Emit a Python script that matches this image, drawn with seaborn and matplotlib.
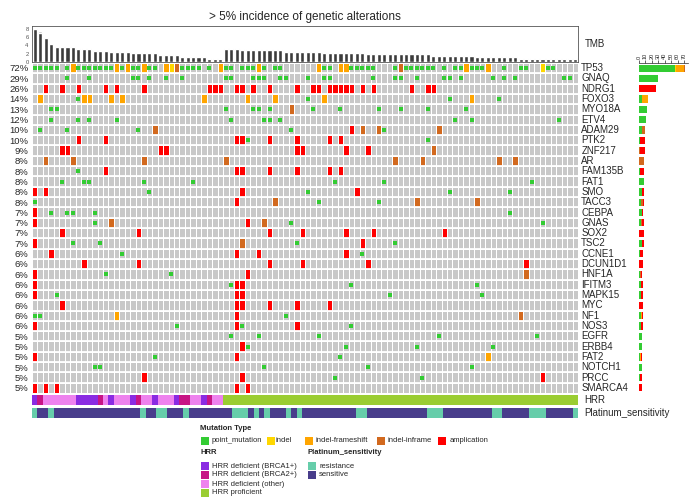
import numpy as np
import seaborn as sns
import matplotlib.pyplot as plt
from matplotlib.colors import ListedColormap
from matplotlib.patches import Rectangle

# ----- data -----
n_samples = 100
genes = ["TP53", "GNAQ", "NDRG1", "FOXO3", "MYO18A", "ETV4", "ADAM29", "PTK2",
         "ZNF217", "AR", "FAM135B", "FAT1", "SMO", "TACC3", "CEBPA", "GNAS",
         "SOX2", "TSC2", "CCNE1", "DCUN1D1", "HNF1A", "IFITM3", "MAPK15", "MYC",
         "NF1", "NOS3", "EGFR", "ERBB4", "FAT2", "NOTCH1", "PRCC", "SMARCA4"]
pct_labels = ["72%", "29%", "26%", "14%", "13%", "12%", "10%", "10%", "9%", "8%",
              "8%", "8%", "8%", "8%", "7%", "7%", "7%", "7%", "6%", "6%", "6%",
              "6%", "6%", "6%", "6%", "6%", "5%", "5%", "5%", "5%", "5%", "5%"]

# sample columns carrying each alteration type, per gene
point_mutation = {
    "TP53": [0, 1, 2, 3, 4, 6, 8, 9, 10, 11, 12, 13, 14, 16, 18, 19, 21, 22, 27, 28,
             29, 30, 32, 35, 36, 38, 39, 40, 42, 44, 45, 53, 54, 58, 59, 60, 61, 62,
             66, 68, 69, 70, 71, 72, 73, 75, 77, 78, 80, 81, 82, 86, 89, 90, 94, 95],
    "GNAQ": [6, 10, 18, 19, 21, 24, 27, 35, 36, 40, 41, 42, 45, 46, 50, 53, 54, 62,
             66, 67, 70, 75, 76, 78, 84, 86, 88, 97, 98],
    "FOXO3": [8, 50, 76, 85],
    "MYO18A": [3, 4, 35, 40, 41, 43, 51, 56, 63, 67, 72, 79],
    "ETV4": [3, 8, 10, 15, 36, 42, 43, 45, 77, 80, 96],
    "ADAM29": [1, 6, 19, 47, 64],
    "PTK2": [39, 72],
    "FAM135B": [8],
    "FAT1": [5, 9, 10, 20, 29, 55, 64, 91],
    "SMO": [21, 50, 76, 87],
    "TACC3": [0, 52, 63],
    "CEBPA": [3, 6, 7, 11, 87],
    "GNAS": [11, 47, 93],
    "TSC2": [7, 12, 48, 66],
    "CCNE1": [16, 60],
    "HNF1A": [13, 25],
    "IFITM3": [36, 58, 81],
    "MAPK15": [4, 65, 82],
    "NF1": [0, 1, 46],
    "NOS3": [26, 38, 58],
    "EGFR": [36, 41, 52, 74, 92],
    "ERBB4": [39, 57, 70, 84],
    "FAT2": [22, 56],
    "NOTCH1": [11, 12, 42, 61, 80],
    "PRCC": [55, 71],
}
indel = {
    "TP53": [25, 93],
}
indel_frameshift = {
    "TP53": [7, 15, 17, 20, 24, 34, 41, 52, 56, 57, 79, 83],
    "FOXO3": [1, 9, 10, 14, 16, 31, 39, 44, 53, 80],
    "NF1": [15],
    "FAT2": [83],
}
indel_inframe = {
    "TP53": [26, 67],
    "MYO18A": [47],
    "ADAM29": [22, 60, 63, 74],
    "ZNF217": [73],
    "AR": [2, 7, 20, 35, 66, 71, 85, 88],
    "TACC3": [44, 70, 81],
    "GNAS": [14, 42],
    "TSC2": [38],
    "HNF1A": [90],
    "NF1": [89],
}
amplification = {
    "NDRG1": [2, 5, 8, 13, 15, 20, 32, 33, 34, 37, 38, 40, 43, 48, 51, 52, 54, 55,
              56, 57, 58, 60, 62, 69, 72, 73],
    "ADAM29": [58],
    "PTK2": [8, 13, 37, 38, 43, 48, 54, 56],
    "ZNF217": [5, 6, 23, 24, 48, 49, 57, 61],
    "FAM135B": [13, 37, 38, 43, 48, 54, 56],
    "SMO": [0, 2, 38, 59],
    "TACC3": [37],
    "CEBPA": [0],
    "GNAS": [0, 39],
    "SOX2": [5, 19, 43, 49, 57, 62, 75],
    "TSC2": [0, 60],
    "CCNE1": [3, 37, 41, 57],
    "DCUN1D1": [9, 19, 43, 49, 61, 90],
    "HNF1A": [0, 39],
    "IFITM3": [0, 37, 38],
    "MAPK15": [0, 37, 38],
    "MYC": [5, 37, 38, 43, 48, 54],
    "NF1": [37],
    "NOS3": [0, 37, 48],
    "ERBB4": [38],
    "FAT2": [0, 37],
    "PRCC": [20, 38, 93],
    "SMARCA4": [0, 2, 4, 37, 39],
}

# TMB per sample (dark: non-synonymous, light: synonymous part on top)
tmb_main = [7.9, 7.0, 5.7, 4.2, 3.6, 3.6, 3.6, 3.6, 3.0, 3.0, 3.0, 2.7, 2.7, 2.7,
            2.4, 2.4, 2.4, 2.4, 2.1, 2.1, 2.1, 2.1, 2.1, 1.6, 1.6, 1.6, 1.6, 1.1,
            1.1, 1.1, 1.1, 1.1, 0.8, 0.8, 0.8,
            3.1, 3.1, 3.1, 2.8, 2.8, 2.8, 2.8, 2.8, 2.8, 2.8, 2.8, 2.5, 2.5, 2.5,
            2.5, 2.5, 2.5, 2.5, 2.2, 2.2, 2.2, 2.2, 2.2, 2.2, 2.2, 2.2, 1.8, 1.8,
            1.8, 1.8, 1.8, 1.8, 1.8, 1.8, 1.8, 1.8, 1.8, 1.8, 1.4, 1.4, 1.4, 1.4,
            1.4, 1.4, 1.4, 1.4, 1.2, 1.2, 1.2, 1.2, 1.2, 1.2, 1.2, 1.2, 0.8, 0.8,
            0.8, 0.8, 0.8, 0.8, 0.8, 0.8, 0.8, 0.8, 0.8]
tmb_syn = [0.3, 0.4, 0.3, 0.2, 0.3, 0.3, 0.3, 0.3, 0.3, 0.3, 0.3, 0.2, 0.2, 0.2,
           0.2, 0.2, 0.2, 0.2, 0.2, 0.2, 0.2, 0.2, 0.2, 0.2, 0.2, 0.2, 0.2, 0.2,
           0.2, 0.2, 0.2, 0.2, 0.1, 0.1, 0.1,
           0.3, 0.3, 0.3, 0.2, 0.2, 0.2, 0.2, 0.2, 0.2, 0.2, 0.2, 0.2, 0.2, 0.2,
           0.2, 0.2, 0.2, 0.2, 0.2, 0.2, 0.2, 0.2, 0.2, 0.2, 0.2, 0.2, 0.2, 0.2,
           0.2, 0.2, 0.2, 0.2, 0.2, 0.2, 0.2, 0.2, 0.2, 0.2, 0.2, 0.2, 0.2, 0.2,
           0.2, 0.2, 0.2, 0.2, 0.2, 0.2, 0.2, 0.2, 0.2, 0.2, 0.2, 0.2, 0.2, 0.2,
           0.2, 0.2, 0.2, 0.2, 0.2, 0.2, 0.2, 0.2, 0.2]

# annotation tracks as (category, run length) from left to right
hrr_runs = [("BRCA1", 1), ("BRCA2", 1), ("other", 6), ("BRCA1", 4), ("BRCA2", 1),
            ("other", 1), ("BRCA1", 1), ("other", 3), ("BRCA1", 1), ("BRCA2", 1),
            ("other", 2), ("BRCA1", 1), ("other", 3), ("BRCA1", 1), ("BRCA2", 2),
            ("other", 2), ("BRCA1", 1), ("BRCA2", 1), ("other", 2), ("proficient", 65)]
platinum_runs = [("res", 1), ("sen", 2), ("res", 1), ("sen", 16), ("res", 1),
                 ("sen", 2), ("res", 2), ("sen", 3), ("res", 1), ("sen", 8),
                 ("res", 3), ("sen", 1), ("res", 1), ("sen", 1), ("res", 1),
                 ("sen", 3), ("res", 1), ("sen", 1), ("res", 1), ("sen", 10),
                 ("res", 2), ("sen", 11), ("res", 3), ("sen", 9), ("res", 2),
                 ("sen", 5), ("res", 3), ("sen", 5), ("res", 1)]

# ----- styling -----
gray = "#C8C8C8"
mut_colors = {"point_mutation": "#33CC33", "indel": "#FFD700",
              "indel-frameshift": "#FFA500", "indel-inframe": "#D2691E",
              "amplification": "#FF0000"}
hrr_colors = {"BRCA1": "#8A2BE2", "BRCA2": "#C71585", "other": "#EE82EE",
              "proficient": "#9ACD32"}
hrr_names = {"BRCA1": "HRR deficient (BRCA1+)", "BRCA2": "HRR deficient (BRCA2+)",
             "other": "HRR deficient (other)", "proficient": "HRR proficient"}
plat_colors = {"res": "#66CDAA", "sen": "#483D8B"}
plat_names = {"res": "resistance", "sen": "sensitive"}

sns.set_style("white")
plt.rcParams["font.family"] = ["Liberation Sans", "DejaVu Sans"]

W, H = 692, 503
fig = plt.figure(figsize=(W / 100, H / 100), dpi=100)


def px_axes(x0, y0, x1, y1):
    return fig.add_axes([x0 / W, 1 - y1 / H, (x1 - x0) / W, (y1 - y0) / H])


GX0, GX1 = 32, 578
GY0, GY1 = 63, 393

# ----- matrix -----
n_genes = len(genes)
full_types = [("amplification", amplification), ("indel", indel),
              ("indel-frameshift", indel_frameshift), ("indel-inframe", indel_inframe)]
codes = np.zeros((n_genes, n_samples))
for k, (name, d) in enumerate(full_types, start=1):
    for g, cols in d.items():
        codes[genes.index(g), cols] = k
cmap = ListedColormap([gray] + [mut_colors[n] for n, _ in full_types])

ax = px_axes(GX0, GY0, GX1, GY1)
sns.heatmap(codes, cmap=cmap, vmin=-0.5, vmax=4.5, cbar=False, linewidths=0.7,
            linecolor="white", xticklabels=False, yticklabels=False, ax=ax)
for r in range(1, n_genes):
    ax.axhline(r, color="white", lw=1.3)
px_, py_ = [], []
for g, cols in point_mutation.items():
    for c in cols:
        px_.append(c + 0.5)
        py_.append(genes.index(g) + 0.5)
ax.scatter(px_, py_, marker="s", s=9, color=mut_colors["point_mutation"],
           linewidths=0, zorder=3)
for r, (g, p) in enumerate(zip(genes, pct_labels)):
    ax.text(-0.6, r + 0.58, p, ha="right", va="center", fontsize=6.8)
    ax.text(n_samples + 0.6, r + 0.5, g, ha="left", va="center", fontsize=7)

# ----- TMB -----
axt = px_axes(GX0, 26, GX1, 62)
idx = np.arange(n_samples)
tmb_total = np.array(tmb_main) + np.array(tmb_syn)
sns.barplot(x=idx, y=tmb_total, color="#BDBDBD", width=0.75, saturation=1, ax=axt)
sns.barplot(x=idx, y=tmb_main, color="#3C3C3C", width=0.75, saturation=1, ax=axt)
axt.set_xlim(-0.5, n_samples - 0.5)
axt.set_ylim(0, 8.6)
axt.set_xticks([])
axt.set_yticks([0, 2, 4, 6, 8])
axt.tick_params(axis="y", labelsize=4.2, length=1.5, width=0.5, pad=1, colors="#555555")
axt.set_xlabel("")
axt.set_ylabel("")
for s in axt.spines.values():
    s.set_linewidth(0.6)
    s.set_color("#555555")
axt.text(1.012, 0.5, "TMB", transform=axt.transAxes, ha="left", va="center", fontsize=7)
fig.text(305 / W, 1 - 17 / H, "> 5% incidence of genetic alterations",
         ha="center", va="center", fontsize=8.5)

# ----- annotation tracks -----
def expand(runs):
    out = []
    for cat, n in runs:
        out += [cat] * n
    return out


hrr_seq = expand(hrr_runs)
plat_seq = expand(platinum_runs)
hrr_keys = list(hrr_colors)
plat_keys = list(plat_colors)

axh = px_axes(GX0, 395, GX1, 405)
sns.heatmap(np.array([[hrr_keys.index(c) for c in hrr_seq]]),
            cmap=ListedColormap([hrr_colors[k] for k in hrr_keys]), vmin=-0.5,
            vmax=3.5, cbar=False, xticklabels=False, yticklabels=False, ax=axh)
axh.text(1.012, 0.5, "HRR", transform=axh.transAxes, ha="left", va="center", fontsize=7)

axp = px_axes(GX0, 407.5, GX1, 418)
sns.heatmap(np.array([[plat_keys.index(c) for c in plat_seq]]),
            cmap=ListedColormap([plat_colors[k] for k in plat_keys]), vmin=-0.5,
            vmax=1.5, cbar=False, xticklabels=False, yticklabels=False, ax=axp)
axp.text(1.012, 0.5, "Platinum_sensitivity", transform=axp.transAxes, ha="left",
         va="center", fontsize=7)

# ----- right-side counts -----
axb = px_axes(639, GY0, 688, GY1)
stack = [("point_mutation", point_mutation), ("indel", indel),
         ("indel-frameshift", indel_frameshift), ("indel-inframe", indel_inframe),
         ("amplification", amplification)]
left = np.zeros(n_genes)
for name, d in stack:
    cnt = np.array([len(d.get(g, [])) for g in genes], dtype=float)
    axb.barh(np.arange(n_genes) + 0.5, cnt, left=left, height=0.7,
             color=mut_colors[name], linewidth=0)
    left += cnt
axb.set_ylim(n_genes, 0)
axb.set_xlim(0, 76)
axb.xaxis.tick_top()
axb.set_xticks(range(0, 80, 10))
axb.set_xticklabels([str(v) for v in range(0, 80, 10)], rotation=90, fontsize=4)
axb.tick_params(axis="x", length=2, width=0.5, pad=1)
axb.set_yticks([])
for k in ["right", "bottom", "left"]:
    axb.spines[k].set_visible(False)
axb.spines["top"].set_linewidth(0.5)

# ----- legends -----
def fig_box(x, y, color, w=8, h=8):
    fig.patches.append(Rectangle((x / W, 1 - (y + h / 2) / H), w / W, h / H,
                                 transform=fig.transFigure, color=color, lw=0))


def fig_txt(x, y, s, bold=False):
    fig.text(x / W, 1 - y / H, s, ha="left", va="center", fontsize=5.5,
             fontweight="bold" if bold else "normal")


fig_txt(200, 429, "Mutation Type", bold=True)
mx = [(201, 212), (267, 275), (305, 315), (377, 388), (438, 450)]
for (bx, tx), name in zip(mx, mut_colors):
    fig_box(bx, 441, mut_colors[name])
    fig_txt(tx, 441, "amplication" if name == "amplification" else name)

fig_txt(200, 453, "HRR", bold=True)
for i, k in enumerate(hrr_keys):
    fig_box(201, 466 + 9 * i, hrr_colors[k])
    fig_txt(212, 466 + 9 * i, hrr_names[k])

fig_txt(307, 453, "Platinum_sensitivity", bold=True)
for i, k in enumerate(plat_keys):
    fig_box(308, 466 + 9 * i, plat_colors[k])
    fig_txt(319, 466 + 9 * i, plat_names[k])

fig.savefig("out.png", dpi=100)
